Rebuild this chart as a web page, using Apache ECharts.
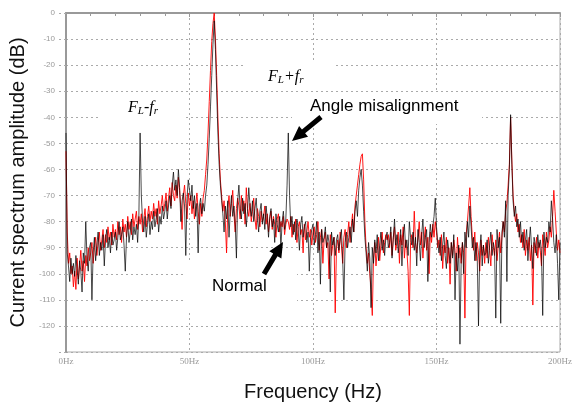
<!DOCTYPE html>
<html>
<head>
<meta charset="utf-8">
<script src="https://cdn.jsdelivr.net/npm/echarts@6/dist/echarts.min.js"></script>
<style>
  html, body { margin: 0; padding: 0; background: #fff; }
  #chart { width: 575px; height: 407px; }
</style>
</head>
<body>
<div id="chart"></div>
<script>
const step = 0.5

// angle misalignment (black)
const misalign = [
  -46, -92, -97, -103, -94, -100, -96, -101, -93, -98, -104, -95, -99, -107, -92, -96, -80, -94, -99, -90,
  -88, -110, -92, -86, -95, -89, -84, -93, -88, -91, -85, -97, -87, -83, -90, -86, -92, -84, -89, -87,
  -84, -91, -86, -80, -87, -85, -82, -89, -99, -86, -80, -88, -84, -79, -87, -82, -85, -81, -88, -78,
  -46, -70, -80, -84, -78, -86, -81, -77, -85, -80, -83, -76, -82, -79, -75, -84, -78, -81, -74, -79,
  -76, -72, -79, -74, -70, -75, -66, -61, -68, -64, -70, -60, -67, -80, -72, -69, -74, -93, -71, -64,
  -68, -72, -66, -75, -70, -78, -73, -92, -74, -71, -77, -73, -76, -70, -66, -58, -48, -36, -24, -12,
  -3, -14, -30, -46, -58, -66, -72, -77, -84, -74, -79, -72, -86, -76, -70, -78, -74, -81, -94, -72,
  -66, -75, -79, -71, -77, -73, -82, -76, -67, -74, -78, -72, -80, -75, -71, -79, -84, -76, -73, -81,
  -77, -83, -74, -79, -86, -78, -75, -82, -79, -88, -77, -81, -84, -78, -90, -80, -76, -83, -79, -66,
  -46, -70, -82, -78, -85, -80, -87, -79, -83, -91, -81, -78, -86, -82, -80, -88, -84, -99, -86, -83,
  -81, -89, -85, -80, -92, -84, -104, -83, -88, -86, -82, -90, -85, -88, -107, -84, -89, -86, -93, -87,
  -85, -91, -87, -83, -94, -110, -88, -84, -90, -86, -82, -88, -79, -84, -76, -72, -78, -68, -63, -60,
  -66, -76, -86, -92, -99, -88, -94, -113, -90, -96, -87, -92, -85, -95, -89, -84, -91, -87, -93, -86,
  -84, -90, -88, -82, -94, -87, -79, -89, -85, -92, -88, -83, -97, -86, -81, -90, -87, -93, -80, -86,
  -89, -84, -91, -86, -97, -83, -88, -95, -85, -79, -90, -86, -83, -103, -88, -81, -86, -82, -78, -71,
  -82, -88, -92, -86, -95, -89, -84, -93, -98, -87, -91, -96, -88, -94, -85, -110, -92, -99, -89, -127,
  -95, -88, -100, -84, -90, -80, -86, -74, -82, -90, -86, -95, -88, -94, -120, -91, -85, -97, -89, -93,
  -92, -87, -96, -89, -84, -93, -88, -91, -117, -83, -90, -86, -119, -84, -80, -86, -72, -103, -70, -60,
  -39, -58, -72, -78, -74, -82, -79, -86, -80, -88, -84, -91, -87, -83, -95, -88, -82, -90, -98, -86,
  -89, -93, -85, -90, -87, -92, -116, -84, -90, -86, -88, -80, -84, -72, -79, -88, -92, -85, -96, -110,
  -88
]

// normal (red)
const normal = [
  -53, -84, -96, -92, -100, -97, -105, -99, -106, -94, -102, -97, -91, -99, -95, -103, -93, -97, -90, -95,
  -92, -88, -96, -90, -86, -93, -88, -84, -91, -87, -83, -90, -85, -88, -82, -87, -84, -89, -81, -86,
  -83, -87, -80, -85, -82, -88, -79, -84, -81, -86, -78, -83, -80, -85, -77, -82, -79, -76, -83, -78,
  -81, -77, -84, -79, -75, -82, -78, -74, -80, -76, -79, -73, -78, -75, -81, -72, -77, -74, -70, -76,
  -73, -69, -76, -71, -67, -74, -65, -70, -72, -66, -71, -63, -68, -75, -83, -70, -66, -73, -79, -69,
  -74, -70, -77, -72, -79, -74, -69, -76, -81, -73, -78, -71, -68, -62, -56, -46, -34, -22, -11, -4,
  0, -10, -24, -40, -54, -64, -70, -76, -72, -80, -92, -75, -70, -78, -73, -68, -77, -84, -75, -71,
  -74, -79, -70, -76, -72, -81, -67, -75, -78, -73, -80, -76, -71, -79, -83, -75, -78, -82, -76, -80,
  -78, -74, -81, -77, -84, -79, -76, -83, -78, -81, -86, -79, -77, -84, -80, -82, -78, -85, -81, -79,
  -80, -83, -78, -86, -81, -84, -79, -88, -82, -80, -85, -83, -92, -81, -87, -84, -80, -86, -83, -89,
  -84, -82, -88, -85, -80, -91, -86, -83, -96, -87, -84, -90, -88, -102, -85, -93, -89, -86, -115, -90,
  -87, -92, -84, -89, -96, -86, -83, -90, -85, -80, -88, -82, -77, -84, -74, -70, -66, -62, -58, -55,
  -54, -64, -80, -90, -96, -92, -100, -106, -116, -94, -88, -97, -91, -86, -95, -89, -84, -92, -88, -85,
  -87, -85, -90, -84, -93, -86, -82, -91, -88, -84, -96, -85, -89, -82, -94, -87, -91, -99, -116, -88,
  -85, -90, -76, -88, -92, -86, -80, -89, -84, -94, -87, -82, -91, -86, -100, -84, -88, -81, -86, -80,
  -84, -90, -87, -93, -85, -98, -89, -92, -86, -96, -90, -104, -88, -93, -87, -91, -99, -86, -94, -90,
  -96, -88, -92, -117, -85, -80, -74, -67, -78, -86, -91, -84, -95, -88, -92, -99, -87, -93, -89, -96,
  -88, -94, -86, -91, -97, -85, -90, -93, -87, -95, -89, -84, -92, -86, -80, -84, -76, -73, -66, -58,
  -40, -56, -70, -76, -80, -77, -84, -81, -88, -85, -90, -83, -93, -87, -91, -86, -95, -89, -112, -88,
  -92, -86, -94, -88, -91, -97, -85, -89, -93, -84, -90, -87, -82, -86, -78, -68, -76, -84, -91, -87,
  -92
]

function toPairs(arr) {
  return arr.map((v, i) => [i * step, v])
}

// black block arrow from (x1,y1) to tip (x2,y2)
function arrow(x1, y1, x2, y2) {
  const dx = x2 - x1, dy = y2 - y1, len = Math.hypot(dx, dy)
  const ux = dx / len, uy = dy / len, nx = -uy, ny = ux
  const hl = 15, hw = 7, sw = 2.5
  const bx = x2 - ux * hl, by = y2 - uy * hl
  return {
    type: 'polygon',
    z: 10,
    shape: {
      points: [
        [x2, y2],
        [bx + nx * hw, by + ny * hw],
        [bx + nx * sw, by + ny * sw],
        [x1 + nx * sw, y1 + ny * sw],
        [x1 - nx * sw, y1 - ny * sw],
        [bx - nx * sw, by - ny * sw],
        [bx - nx * hw, by - ny * hw]
      ]
    },
    style: { fill: '#000' }
  }
}

function blank(x, y, w, h) {
  return { type: 'rect', z: 1, shape: { x: x, y: y, width: w, height: h }, style: { fill: '#fff' } }
}

const serifRich = {
  f: { fontFamily: 'Liberation Serif', fontStyle: 'italic', fontSize: 16, lineHeight: 18, color: '#000' },
  s: { fontFamily: 'Liberation Serif', fontStyle: 'italic', fontSize: 11, lineHeight: 11, verticalAlign: 'bottom', color: '#000' }
}

const chart = echarts.init(document.getElementById('chart'))
chart.setOption({
  animation: false,
  backgroundColor: '#fff',
  grid: {
    left: 66,
    right: 12,
    top: 13,
    bottom: 54,
    show: true,
    borderColor: '#aaa',
    borderWidth: 1
  },
  xAxis: {
    type: 'value',
    min: 0,
    max: 200,
    interval: 50,
    name: 'Frequency (Hz)',
    nameLocation: 'middle',
    nameGap: 30,
    nameTextStyle: { fontFamily: 'Liberation Sans', fontSize: 20, color: '#111' },
    axisLine: { lineStyle: { color: '#999', width: 2 } },
    axisTick: { show: true, length: 4, lineStyle: { color: '#999' } },
    minorTick: { show: true, splitNumber: 5, length: 3, lineStyle: { color: '#999' } },
    axisLabel: {
      margin: 5,
      fontFamily: 'Liberation Serif',
      fontSize: 9,
      color: '#999',
      formatter: v => v + 'Hz'
    },
    splitLine: { show: true, lineStyle: { color: '#aaa', type: [2, 3] } }
  },
  yAxis: {
    type: 'value',
    min: -130,
    max: 0,
    interval: 10,
    name: 'Current spectrum amplitude (dB)',
    nameLocation: 'middle',
    nameGap: 31,
    nameTextStyle: { fontFamily: 'Liberation Sans', fontSize: 20, color: '#111' },
    axisLine: { show: true, lineStyle: { color: '#999', width: 2 } },
    axisTick: { show: true, length: 8, lineStyle: { color: '#aaa', type: [2, 3] } },
    axisLabel: {
      margin: 11,
      fontFamily: 'Liberation Sans',
      fontSize: 8,
      color: '#999',
      formatter: v => (v === -130 ? '' : v)
    },
    splitLine: { show: true, lineStyle: { color: '#aaa', type: [2, 3] } }
  },
  series: [
    {
      name: 'Normal',
      type: 'line',
      data: toPairs(normal),
      symbol: 'none',
      lineStyle: { color: '#ff0000', width: 1, opacity: 0.9 }
    },
    {
      name: 'Angle misalignment',
      type: 'line',
      data: toPairs(misalign),
      symbol: 'none',
      lineStyle: { color: '#000', width: 1, opacity: 0.7 }
    }
  ],
  graphic: [
    blank(98, 96, 88, 34),
    blank(243, 60, 90, 30),
    blank(292, 93, 190, 31),
    blank(183, 262, 114, 50),
    {
      type: 'text', z: 10, x: 128, y: 108,
      style: { text: '{f|F}{s|L}{f|-f}{s|r}', rich: serifRich, verticalAlign: 'middle' }
    },
    {
      type: 'text', z: 10, x: 268, y: 77,
      style: { text: '{f|F}{s|L}{f|+f}{s|r}', rich: serifRich, verticalAlign: 'middle' }
    },
    {
      type: 'text', z: 10, x: 310, y: 106,
      style: { text: 'Angle misalignment', fontFamily: 'Liberation Sans', fontSize: 17, fill: '#000', verticalAlign: 'middle' }
    },
    {
      type: 'text', z: 10, x: 212, y: 286,
      style: { text: 'Normal', fontFamily: 'Liberation Sans', fontSize: 17, fill: '#000', verticalAlign: 'middle' }
    },
    arrow(321, 117, 292, 141),
    arrow(264, 274, 283, 242)
  ]
})
</script>
</body>
</html>
